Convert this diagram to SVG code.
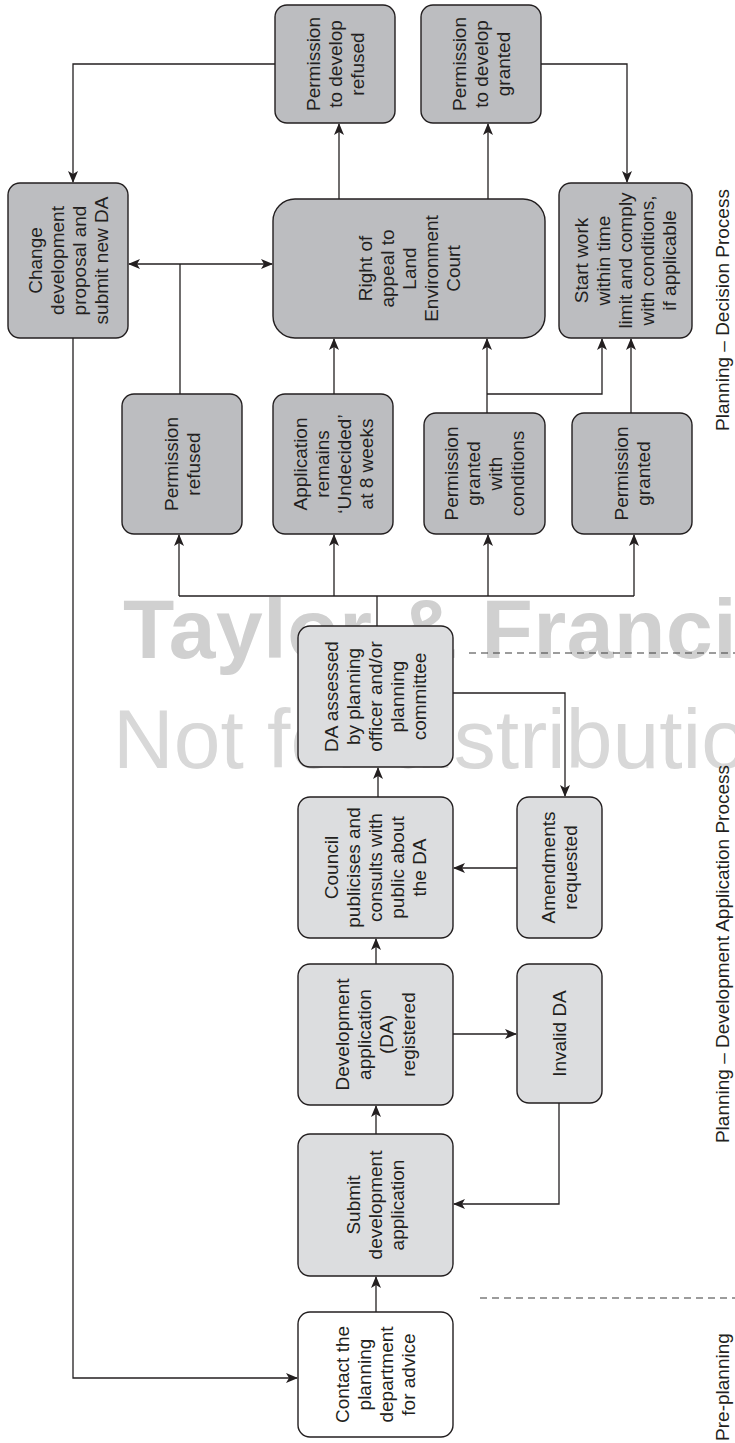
<svg xmlns="http://www.w3.org/2000/svg" width="735" height="1443" viewBox="0 0 735 1443">
<defs>
<style>
.dark{fill:#bcbdc0;stroke:#231f20;stroke-width:1.4}
.light{fill:#dcdddf;stroke:#231f20;stroke-width:1.4}
.white{fill:#ffffff;stroke:#231f20;stroke-width:1.4}
text{font-family:"Liberation Sans",Arial,sans-serif;font-size:19px;fill:#231f20;text-anchor:middle}
.lbl{font-size:19px}
.wm1{font-size:84px;font-weight:bold;fill:#d0d0d0;text-anchor:start;letter-spacing:0.6px}
.wm2{font-size:84px;fill:#d8d8d8;text-anchor:start}
.conn path{fill:none;stroke:#231f20;stroke-width:1.3}
.dash{fill:none;stroke:#3a3a3a;stroke-width:1.2;stroke-dasharray:7,5}
</style>
<marker id="ah" viewBox="0 0 12 10" refX="11" refY="5" markerWidth="12" markerHeight="10" markerUnits="userSpaceOnUse" orient="auto-start-reverse">
<path d="M0,0 L12,5 L0,10 L3,5 Z" fill="#231f20"/>
</marker>
</defs>
<rect x="0" y="0" width="735" height="1443" fill="#ffffff"/>
<g id="watermark">
<text class="wm1" x="123" y="658">Taylor &amp; Francis</text>
<text class="wm2" x="113" y="768">Not for distribution</text>
</g>
<g id="dividers">
<path class="dash" d="M469,653 H735"/>
<path class="dash" d="M480,1298 H735"/>
</g>
<g id="connectors" class="conn">
<path d="M275,64 H73 V182" marker-end="url(#ah)"/>
<path d="M129,264 H272" marker-start="url(#ah)" marker-end="url(#ah)"/>
<path d="M180,394 V264"/>
<path d="M339,199 V124" marker-end="url(#ah)"/>
<path d="M488,199 V124" marker-end="url(#ah)"/>
<path d="M541,64 H627 V182" marker-end="url(#ah)"/>
<path d="M334,394 V339" marker-end="url(#ah)"/>
<path d="M487,413 V339" marker-end="url(#ah)"/>
<path d="M487,394 H602 V339" marker-end="url(#ah)"/>
<path d="M631,413 V339" marker-end="url(#ah)"/>
<path d="M377,626 V596"/>
<path d="M179,596 H634"/>
<path d="M179,596 V535" marker-end="url(#ah)"/>
<path d="M334,596 V535" marker-end="url(#ah)"/>
<path d="M488,596 V535" marker-end="url(#ah)"/>
<path d="M634,596 V535" marker-end="url(#ah)"/>
<path d="M453,693 H565 V796" marker-end="url(#ah)"/>
<path d="M517,868 H454" marker-end="url(#ah)"/>
<path d="M378,797 V768" marker-end="url(#ah)"/>
<path d="M376,964 V939" marker-end="url(#ah)"/>
<path d="M453,1034 H516" marker-end="url(#ah)"/>
<path d="M376,1134 V1106" marker-end="url(#ah)"/>
<path d="M559,1103 V1204 H454" marker-end="url(#ah)"/>
<path d="M376,1312 V1277" marker-end="url(#ah)"/>
<path d="M73,338 V1378 H297" marker-end="url(#ah)"/>
</g>
<g id="n-refused-develop">
<rect class="dark" x="275" y="5" width="120" height="118" rx="12"/>
<text transform="translate(335,64) rotate(-90)"><tspan x="0" y="-15.2">Permission</tspan><tspan x="0" y="6.8">to develop</tspan><tspan x="0" y="28.8">refused</tspan></text>
</g>
<g id="n-granted-develop">
<rect class="dark" x="421" y="5" width="120" height="118" rx="12"/>
<text transform="translate(481,64) rotate(-90)"><tspan x="0" y="-15.2">Permission</tspan><tspan x="0" y="6.8">to develop</tspan><tspan x="0" y="28.8">granted</tspan></text>
</g>
<g id="n-change">
<rect class="dark" x="8" y="183" width="120" height="155" rx="12"/>
<text transform="translate(68,260.5) rotate(-90)"><tspan x="0" y="-26.2">Change</tspan><tspan x="0" y="-4.2">development</tspan><tspan x="0" y="17.8">proposal  and</tspan><tspan x="0" y="39.8">submit new DA</tspan></text>
</g>
<g id="n-appeal">
<rect class="dark" x="273" y="199" width="272" height="139" rx="22"/>
<text transform="translate(409,268.5) rotate(-90)"><tspan x="0" y="-37.2">Right of</tspan><tspan x="0" y="-15.2">appeal to</tspan><tspan x="0" y="6.8">Land</tspan><tspan x="0" y="28.8">Environment</tspan><tspan x="0" y="50.8">Court</tspan></text>
</g>
<g id="n-startwork">
<rect class="dark" x="559" y="183" width="133" height="155" rx="12"/>
<text transform="translate(625.5,260.5) rotate(-90)"><tspan x="0" y="-37.2">Start work</tspan><tspan x="0" y="-15.2">within time</tspan><tspan x="0" y="6.8">limit and comply</tspan><tspan x="0" y="28.8">with conditions,</tspan><tspan x="0" y="50.8">if applicable</tspan></text>
</g>
<g id="n-refused">
<rect class="dark" x="122" y="394" width="120" height="140" rx="12"/>
<text transform="translate(182,464) rotate(-90)"><tspan x="0" y="-4.2">Permission</tspan><tspan x="0" y="17.8">refused</tspan></text>
</g>
<g id="n-undecided">
<rect class="dark" x="273" y="394" width="120" height="140" rx="12"/>
<text transform="translate(333,464) rotate(-90)"><tspan x="0" y="-26.2">Application</tspan><tspan x="0" y="-4.2">remains</tspan><tspan x="0" y="17.8">‘Undecided’</tspan><tspan x="0" y="39.8">at 8 weeks</tspan></text>
</g>
<g id="n-conditions">
<rect class="dark" x="424" y="413" width="121" height="121" rx="12"/>
<text transform="translate(484.5,473.5) rotate(-90)"><tspan x="0" y="-26.2">Permission</tspan><tspan x="0" y="-4.2">granted</tspan><tspan x="0" y="17.8">with</tspan><tspan x="0" y="39.8">conditions</tspan></text>
</g>
<g id="n-granted">
<rect class="dark" x="572" y="413" width="120" height="121" rx="12"/>
<text transform="translate(632,473.5) rotate(-90)"><tspan x="0" y="-4.2">Permission</tspan><tspan x="0" y="17.8">granted</tspan></text>
</g>
<g id="n-assessed">
<rect class="light" x="298" y="626" width="155" height="141" rx="12"/>
<text transform="translate(375.5,696.5) rotate(-90)"><tspan x="0" y="-37.2">DA assessed</tspan><tspan x="0" y="-15.2">by planning</tspan><tspan x="0" y="6.8">officer and/or</tspan><tspan x="0" y="28.8">planning</tspan><tspan x="0" y="50.8">committee</tspan></text>
</g>
<g id="n-council">
<rect class="light" x="298" y="797" width="155" height="141" rx="12"/>
<text transform="translate(375.5,867.5) rotate(-90)"><tspan x="0" y="-37.2">Council</tspan><tspan x="0" y="-15.2">publicises and</tspan><tspan x="0" y="6.8">consults with</tspan><tspan x="0" y="28.8">public about</tspan><tspan x="0" y="50.8">the DA</tspan></text>
</g>
<g id="n-registered">
<rect class="light" x="298" y="964" width="155" height="141" rx="12"/>
<text transform="translate(375.5,1034.5) rotate(-90)"><tspan x="0" y="-26.2">Development</tspan><tspan x="0" y="-4.2">application</tspan><tspan x="0" y="17.8">(DA)</tspan><tspan x="0" y="39.8">registered</tspan></text>
</g>
<g id="n-submit">
<rect class="light" x="298" y="1134" width="155" height="142" rx="12"/>
<text transform="translate(375.5,1205) rotate(-90)"><tspan x="0" y="-15.2">Submit</tspan><tspan x="0" y="6.8">development</tspan><tspan x="0" y="28.8">application</tspan></text>
</g>
<g id="n-amendments">
<rect class="light" x="517" y="797" width="85" height="141" rx="12"/>
<text transform="translate(559.5,867.5) rotate(-90)"><tspan x="0" y="-4.2">Amendments</tspan><tspan x="0" y="17.8">requested</tspan></text>
</g>
<g id="n-invalid">
<rect class="light" x="517" y="964" width="85" height="139" rx="12"/>
<text transform="translate(559.5,1033.5) rotate(-90)"><tspan x="0" y="6.8">Invalid DA</tspan></text>
</g>
<g id="n-contact">
<rect class="white" x="298" y="1312" width="155" height="125" rx="12"/>
<text transform="translate(375.5,1374.5) rotate(-90)"><tspan x="0" y="-26.2">Contact the</tspan><tspan x="0" y="-4.2">planning</tspan><tspan x="0" y="17.8">department</tspan><tspan x="0" y="39.8">for advice</tspan></text>
</g>
<g id="labels">
<text class="lbl" transform="translate(729,310) rotate(-90)">Planning – Decision Process</text>
<text class="lbl" transform="translate(729,954) rotate(-90)">Planning – Development Application Process</text>
<text class="lbl" transform="translate(729,1387) rotate(-90)">Pre-planning</text>
</g>
</svg>
